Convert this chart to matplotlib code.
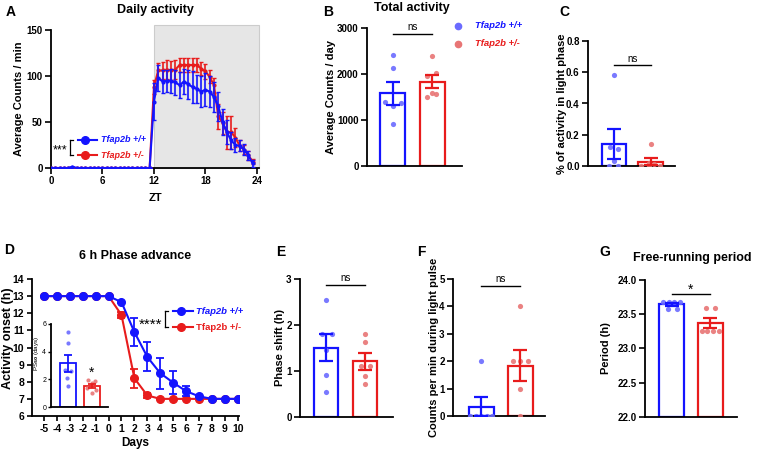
import matplotlib
matplotlib.use("Agg")
import matplotlib.pyplot as plt
import numpy as np
from matplotlib.lines import Line2D
from matplotlib.patches import Rectangle

plt.rcParams['font.family'] = ['Liberation Sans', 'DejaVu Sans']
plt.rcParams['font.weight'] = 'bold'
plt.rcParams['axes.labelweight'] = 'bold'

# ---------------- DATA ----------------
# Panel A: daily activity profile (ZT 0..23.5, 0.5 h bins)
zt = np.arange(0, 24, 0.5)
a_blue_mean = [0, 0, 0, 0, 0, 1.5, 0, 0, 0, 0, 0, 0,
               0, 0, 0, 0, 0, 0, 0, 0, 0, 0, 0, 0,
               72, 98, 94, 95, 95, 93, 90, 94, 91, 88, 86, 83,
               85, 83, 77, 67, 50, 39, 30, 25, 24, 20, 14, 5]
a_blue_err = [0] * 24 + [20, 14, 12, 12, 13, 14, 14, 14, 16, 17, 15, 17,
                         18, 17, 16, 16, 14, 13, 9, 8, 6, 6, 5, 4]
a_red_mean = [0] * 24 + [88, 106, 106, 107, 106, 107, 112, 112, 112, 112, 112, 108,
                         105, 99, 90, 56, 49, 39, 39, 33, 24, 20, 14, 7]
a_red_err = [0] * 24 + [8, 8, 9, 10, 10, 10, 8, 8, 8, 8, 8, 7,
                        8, 7, 8, 14, 12, 18, 18, 10, 6, 5, 5, 3]

genotypes = ['Tfap2b +/+', 'Tfap2b +/-']

# Panel B: total activity (counts/day)
b_blue_pts = [2413, 2123, 1398, 1304, 1362, 906]
b_red_pts = [2391, 1957, 2015, 1507, 1565, 1580]
b_sem = [250, 140]

# Panel C: % activity in light phase
c_blue_pts = [0.58, 0.12, 0.11, 0.03, 0.0, 0.0]
c_red_pts = [0.14, 0.02, 0.01, 0.0, 0.0, 0.0]
c_sem = [0.095, 0.025]

# Panel D: 6 h phase advance
days = list(range(-5, 11))
d_blue_mean = [13, 13, 13, 13, 13, 13, 12.65, 10.9, 9.45, 8.5, 7.95, 7.45, 7.15, 7.0, 7.0, 7.0]
d_blue_err = [0, 0, 0, 0, 0, 0, 0.05, 0.8, 0.85, 0.9, 0.65, 0.3, 0.05, 0, 0, 0]
d_red_mean = [13, 13, 13, 13, 13, 13, 11.9, 8.2, 7.2, 7.0, 7.0, 7.0, 7.0, 7.0, 7.0, 7.0]
d_red_err = [0, 0, 0, 0, 0, 0, 0.15, 0.55, 0.12, 0, 0, 0, 0, 0, 0, 0]
# inset PS50 (days)
ps_blue_pts = [5.4, 4.6, 2.7, 2.6, 2.1, 1.5]
ps_red_pts = [1.95, 1.9, 1.7, 1.4, 1.2, 1.0]
ps_sem = [0.62, 0.17]

# Panel E: phase shift (h)
e_blue_pts = [2.54, 1.8, 1.8, 1.46, 0.91, 0.54]
e_red_pts = [1.8, 1.62, 1.1, 1.1, 0.9, 0.72]
e_sem = [0.29, 0.19]

# Panel F: counts per min during light pulse
f_blue_pts = [2, 0, 0, 0, 0, 0]
f_red_pts = [4, 2, 2, 2, 1, 0]
f_sem = [0.35, 0.57]

# Panel G: free-running period (h)
g_blue_pts = [23.68, 23.68, 23.68, 23.68, 23.58, 23.58]
g_red_pts = [23.585, 23.585, 23.26, 23.26, 23.26, 23.26]
g_sem = [0.02, 0.07]

# ---------------- STYLE ----------------
BLUE = '#1414ff'
RED = '#e81c1c'
BLUE_PT = '#6b6bff'
RED_PT = '#e87575'
W, H = 757, 451

# horizontal jitter of the dots (layout only)
b_off = ([0, 0, -0.19, 0, 0.22, 0], [0, -0.13, 0.1, -0.13, 0.1, 0.0])
c_off = ([0, -0.11, 0.11, 0, -0.13, 0.12], [0, -0.05, 0.1, -0.27, -0.05, 0.25])
ps_off = ([0, 0, -0.12, 0.12, -0.05, 0], [-0.15, 0.15, 0, -0.2, 0.2, 0])
e_off = ([0, -0.11, 0.15, 0, 0, 0], [0, 0, -0.11, 0.13, 0, 0])
f_off = ([0, -0.29, -0.15, 0, 0.13, 0.26], [0, -0.2, 0.0, 0.2, 0, 0])
g_off = ([-0.21, -0.06, 0.07, 0.22, -0.08, 0.13], [-0.115, 0.115, -0.23, -0.1, 0.07, 0.23])

fig = plt.figure(figsize=(W / 100, H / 100), dpi=100)


def ax_px(l, t, r, b):
    return fig.add_axes([l / W, 1 - b / H, (r - l) / W, (b - t) / H])


def fx(x):
    return x / W


def fy(y):
    return 1 - y / H


def style_ax(ax, ticksize=7, ticklen=4):
    for s in ['top', 'right']:
        ax.spines[s].set_visible(False)
    for s in ['left', 'bottom']:
        ax.spines[s].set_linewidth(1.3)
    ax.tick_params(width=1.2, length=ticklen, labelsize=ticksize, pad=2)
    ax.patch.set_alpha(0)


def fline(x1, y1, x2, y2, **kw):
    fig.add_artist(Line2D([fx(x1), fx(x2)], [fy(y1), fy(y2)], transform=fig.transFigure, **kw))


def bracket(x, y1, y2):
    fline(x, y1, x, y2, color='black', lw=0.9)
    fline(x, y1, x + 3, y1, color='black', lw=0.9)
    fline(x, y2, x + 3, y2, color='black', lw=0.9)


def ftext(x, y, s, **kw):
    fig.text(fx(x), fy(y), s, **kw)


def ylab_at(ax, center_px, left, width, size=8, ypos=0.5):
    # ylabel anchor is its right edge -> shift by ~half the label height
    ax.yaxis.set_label_coords((center_px + size * 0.72 - left) / width, ypos)


def bar_panel(ax, blue_pts, red_pts, sems, offs, width, xlim, ylim, yticks, ytl,
              ylabel, sig_y, sig_txt, lw=1.6, cap=5, ms=14, bottom=0):
    for i, (pts, col, pcol) in enumerate([(blue_pts, BLUE, BLUE_PT), (red_pts, RED, RED_PT)]):
        m = np.mean(pts)
        ax.bar(i, m - bottom, width, bottom=bottom, facecolor='white', edgecolor=col, lw=lw, zorder=2)
        ax.scatter(np.array(offs[i]) + i, pts, s=ms, color=pcol, alpha=0.9, lw=0, zorder=3)
        ax.errorbar(i, m, yerr=sems[i], color=col, capsize=cap, elinewidth=lw, capthick=lw, zorder=4)
    ax.set_xlim(*xlim)
    ax.set_ylim(*ylim)
    ax.set_yticks(yticks)
    ax.set_yticklabels(ytl)
    ax.set_xticks([])
    ax.set_ylabel(ylabel, fontsize=8)
    if sig_y is not None:
        ax.plot([0, 1], [sig_y, sig_y], color='black', lw=1.0, clip_on=False)
        if sig_txt == 'ns':
            ax.text(0.5, sig_y, 'ns\n', fontsize=7, fontweight='normal', ha='center', va='center',
                    linespacing=1.4)
        else:
            ax.text(0.5, sig_y, sig_txt, fontsize=10, fontweight='normal', ha='center', va='baseline')
    style_ax(ax)


# ---------------- PANEL A ----------------
axA = ax_px(51, 30, 259, 168)
axA.add_patch(Rectangle((12, 0), 12.25, 155, facecolor='#e6e6e6', edgecolor='#cccccc',
                        lw=0.8, clip_on=False, zorder=0))
axA.errorbar(zt, a_red_mean, yerr=a_red_err, color=RED, lw=1.5, marker='o', ms=2,
             capsize=1.6, elinewidth=1.2, capthick=1.0, zorder=3)
axA.errorbar(zt, a_blue_mean, yerr=a_blue_err, color=BLUE, lw=1.5, marker='o', ms=2,
             capsize=1.6, elinewidth=1.2, capthick=1.0, zorder=4)
axA.set_xlim(0, 24.25)
axA.set_ylim(0, 150)
axA.set_xticks([0, 6, 12, 18, 24])
axA.set_yticks([0, 50, 100, 150])
axA.set_ylabel('Average Counts / min', fontsize=8)
axA.set_xlabel('ZT', fontsize=8)
axA.xaxis.set_label_coords((155 - 51) / 208, (168 - 193) / 138)
ylab_at(axA, 18, 51, 208)
style_ax(axA)
ftext(155, 9.5, 'Daily activity', fontsize=9, ha='center', va='center')
ftext(10.5, 12, 'A', fontsize=10, ha='center', va='center')
# legend A
ftext(60, 153.5, '***', fontsize=9, fontweight='normal', ha='center', va='baseline')
bracket(70, 140, 155)
fline(78, 140, 97, 140, color=BLUE, lw=1.5)
fig.add_artist(Line2D([fx(85)], [fy(140)], transform=fig.transFigure, marker='o', ms=5.5, color=BLUE))
fline(78, 155, 97, 155, color=RED, lw=1.5)
fig.add_artist(Line2D([fx(85)], [fy(155)], transform=fig.transFigure, marker='o', ms=5.5, color=RED))
ftext(101, 140, genotypes[0], fontsize=6.5, color=BLUE, style='italic', ha='left', va='center')
ftext(101, 155, genotypes[1], fontsize=6.5, color=RED, style='italic', ha='left', va='center')

# ---------------- PANEL B ----------------
axB = ax_px(367, 28, 462, 166)
bar_panel(axB, b_blue_pts, b_red_pts, b_sem, b_off, 0.625, (-0.64, 1.74), (0, 3000),
          [0, 1000, 2000, 3000], ['0', '1000', '2000', '3000'], 'Average Counts / day', 2870, 'ns')
ylab_at(axB, 330, 367, 95)
ftext(412, 7.5, 'Total activity', fontsize=9, ha='center', va='center')
ftext(328, 12.5, 'B', fontsize=10, ha='center', va='center')
for yy, col, pcol, lab in [(26, BLUE, BLUE_PT, genotypes[0]), (44, RED, RED_PT, genotypes[1])]:
    fig.add_artist(Line2D([fx(458)], [fy(yy)], transform=fig.transFigure, marker='o', ms=4.5,
                          color=pcol, lw=0))
    ftext(475, yy, lab, fontsize=6.8, color=col, style='italic', ha='left', va='center')

# ---------------- PANEL C ----------------
axC = ax_px(588, 41, 675, 166)
bar_panel(axC, c_blue_pts, c_red_pts, c_sem, c_off, 0.67, (-0.71, 1.67), (0, 0.8),
          [0, 0.2, 0.4, 0.6, 0.8], ['0.0', '0.2', '0.4', '0.6', '0.8'],
          '% of activity in light phase', 0.645, 'ns')
ylab_at(axC, 561, 588, 87)
ftext(564.5, 12.5, 'C', fontsize=10, ha='center', va='center')

# ---------------- PANEL D ----------------
axD = ax_px(32, 279, 239, 416)
axD.errorbar(days, d_red_mean, yerr=d_red_err, color=RED, lw=1.5, marker='o', ms=5.5,
             capsize=3, elinewidth=1.3, capthick=1.3, zorder=3)
axD.errorbar(days, d_blue_mean, yerr=d_blue_err, color=BLUE, lw=1.5, marker='o', ms=5.5,
             capsize=3, elinewidth=1.3, capthick=1.3, zorder=4)
axD.set_xlim(-5.93, 10.1)
axD.set_ylim(6, 14)
axD.set_xticks(days)
axD.set_xticklabels([str(d) for d in days])
axD.set_yticks(range(6, 15))
axD.set_ylabel('Activity onset (h)', fontsize=9)
axD.set_xlabel('Days', fontsize=8.5)
ylab_at(axD, 7.5, 32, 207, size=9, ypos=0.57)
axD.xaxis.set_label_coords((135 - 32) / 207, (416 - 437) / 137)
style_ax(axD, ticksize=7.5, ticklen=3.5)
ftext(135.5, 256, '6 h Phase advance', fontsize=9, ha='center', va='center')
ftext(9, 250.5, 'D', fontsize=10, ha='center', va='center')
ftext(151, 329, '****', fontsize=11, fontweight='normal', ha='center', va='baseline')
bracket(165, 311, 327)
fline(173, 311, 193, 311, color=BLUE, lw=1.5)
fig.add_artist(Line2D([fx(181)], [fy(311)], transform=fig.transFigure, marker='o', ms=5.5, color=BLUE))
fline(173, 327, 193, 327, color=RED, lw=1.5)
fig.add_artist(Line2D([fx(181)], [fy(327)], transform=fig.transFigure, marker='o', ms=5.5, color=RED))
ftext(196, 311, genotypes[0], fontsize=6.8, color=BLUE, style='italic', ha='left', va='center')
ftext(196, 327, genotypes[1], fontsize=6.8, color=RED, ha='left', va='center')

# inset
axI = ax_px(51, 324, 108, 407)
bar_panel(axI, ps_blue_pts, ps_red_pts, ps_sem, ps_off, 0.68, (-0.72, 1.70), (0, 6),
          [0, 2, 4, 6], ['0', '2', '4', '6'], 'PS$_{50}$ (days)', None, None,
          lw=1.3, cap=3, ms=9)
axI.set_ylabel('PS$_{50}$ (days)', fontsize=4.5, fontweight='normal')
axI.yaxis.set_label_coords((41 - 51) / 57, 0.65)
axI.tick_params(labelsize=5, length=2.5, width=1, pad=1)
for lab in axI.get_yticklabels():
    lab.set_fontweight('normal')
ftext(92, 377, '*', fontsize=10, fontweight='normal', ha='center', va='baseline')

# ---------------- PANEL E ----------------
axE = ax_px(300, 279, 393, 417)
bar_panel(axE, e_blue_pts, e_red_pts, e_sem, e_off, 0.62, (-0.67, 1.72), (0, 3),
          [0, 1, 2, 3], ['0', '1', '2', '3'], 'Phase shift (h)', 2.87, 'ns')
ylab_at(axE, 279, 300, 93)
ftext(280.5, 252, 'E', fontsize=10, ha='center', va='center')

# ---------------- PANEL F ----------------
axF = ax_px(453, 279, 545, 416)
bar_panel(axF, f_blue_pts, f_red_pts, f_sem, f_off, 0.64, (-0.73, 1.63), (0, 5),
          [0, 1, 2, 3, 4, 5], ['0', '1', '2', '3', '4', '5'],
          'Counts per min during light pulse', 4.76, 'ns')
ylab_at(axF, 433, 453, 92)
ftext(421.5, 252, 'F', fontsize=10, ha='center', va='center')

# ---------------- PANEL G ----------------
axG = ax_px(645, 280, 737, 416.7)
bar_panel(axG, g_blue_pts, g_red_pts, g_sem, g_off, 0.64, (-0.68, 1.68), (22, 24),
          [22, 22.5, 23, 23.5, 24], ['22.0', '22.5', '23.0', '23.5', '24.0'],
          'Period (h)', 23.8, '*', bottom=22)
ylab_at(axG, 605, 645, 92)
ftext(692, 258, 'Free-running period', fontsize=9, ha='center', va='center')
ftext(604.5, 252, 'G', fontsize=10, ha='center', va='center')

fig.savefig('out.png', dpi=100)
